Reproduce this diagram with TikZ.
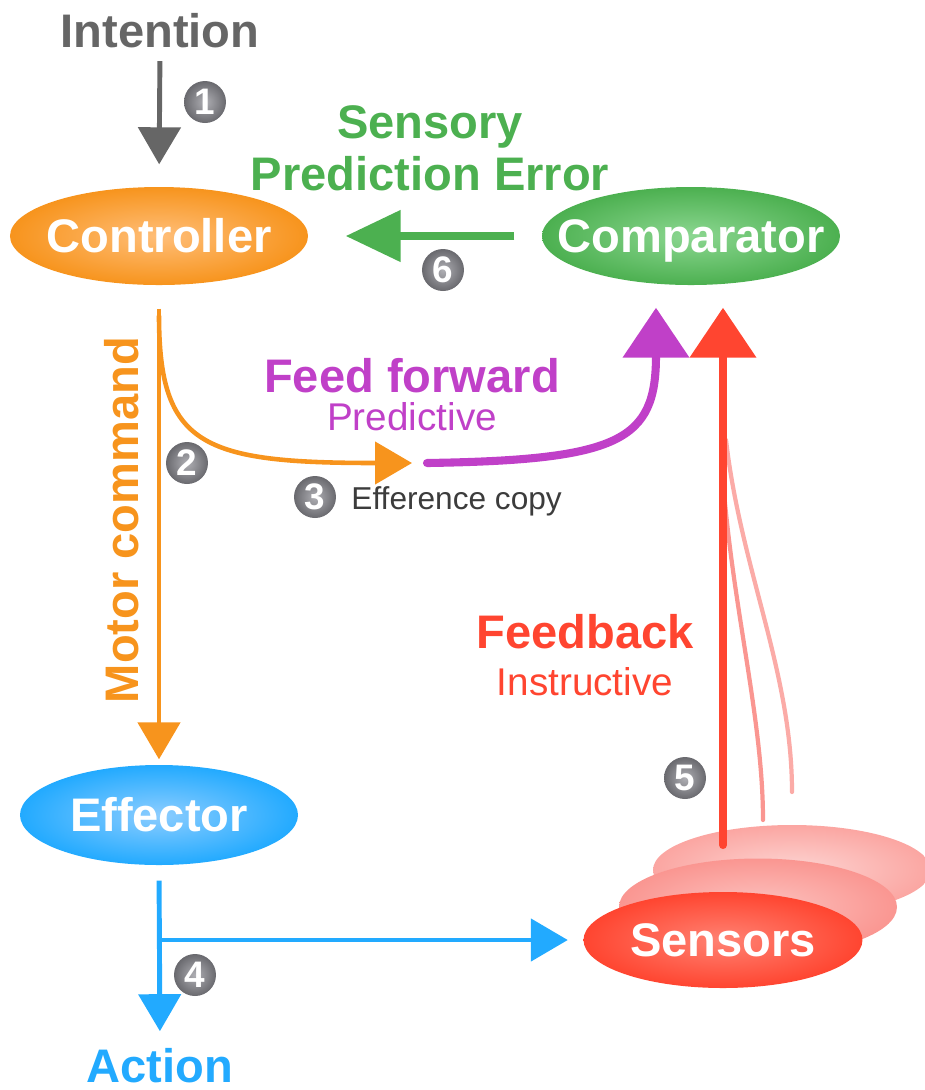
\documentclass[tikz,border=0pt]{standalone}
\usepackage{fontspec}
\setmainfont{Liberation Sans}
\usetikzlibrary{shapes,arrows.meta,positioning}
\definecolor{intentgray}{RGB}{102,102,102}
\definecolor{copygray}{RGB}{60,60,60}
\definecolor{ctrlorange}{RGB}{247,148,29}
\definecolor{ctrllight}{RGB}{255,190,120}
\definecolor{compgreen}{RGB}{76,176,80}
\definecolor{complight}{RGB}{140,215,145}
\definecolor{ffpurple}{RGB}{192,64,200}
\definecolor{fbred}{RGB}{255,69,48}
\definecolor{fblight}{RGB}{255,130,115}
\definecolor{fbpale}{RGB}{250,150,145}
\definecolor{fbpaler}{RGB}{252,195,192}
\definecolor{effblue}{RGB}{34,170,255}
\definecolor{efflight}{RGB}{140,205,255}
\definecolor{badgedark}{RGB}{105,105,110}
\definecolor{badgelight}{RGB}{175,175,180}

\begin{document}
\begin{tikzpicture}[
  blob/.style={ellipse, inner sep=0pt, minimum width=2.98cm, minimum height=0.98cm, shading=radial, label={[blobtext]center:#1}},
  blobtext/.style={text=white, inner sep=0pt, text height=9.6pt, text depth=0pt, font=\fontsize{13.4}{16}\selectfont\bfseries},
  badge/.style={circle, minimum size=0.42cm, inner sep=0pt, shading=radial, inner color=badgelight, outer color=badgedark, text=white, font=\fontsize{10.5}{12}\selectfont\bfseries},
  headline/.style={inner sep=0pt, anchor=base, font=\fontsize{13.4}{16}\selectfont\bfseries},
  subline/.style={inner sep=0pt, anchor=base, font=\fontsize{11}{13}\selectfont},
  thinhead/.style={-{Triangle[length=0.37cm,width=0.42cm]}},
  bighead/.style={-{Triangle[length=0.50cm,width=0.65cm]}}
]
  \useasboundingbox (0,0) rectangle (9.25,-10.9);

  % boxes
  \node[blob=Controller, inner color=ctrllight, outer color=ctrlorange] (ctrl) at (1.59,-2.36) {};
  \node[blob=Comparator, inner color=complight, outer color=compgreen] (comp) at (6.91,-2.36) {};
  \node[blob=Effector, minimum width=2.78cm, minimum height=1.0cm, inner color=efflight, outer color=effblue] (eff) at (1.59,-8.15) {};
  \node[ellipse, minimum width=2.78cm, minimum height=0.9cm, shading=radial, inner color=fbpaler!70!white, outer color=fbpale!85!white] (sensC) at (7.92,-8.70) {};
  \node[ellipse, minimum width=2.78cm, minimum height=0.97cm, shading=radial, inner color=fbpaler, outer color=fbpale] (sensB) at (7.58,-9.07) {};
  \node[blob=Sensors, minimum width=2.79cm, minimum height=0.96cm, inner color=fblight, outer color=fbred] (sens) at (7.23,-9.40) {};

  % labels
  \node[headline, text=intentgray] (intent) at (1.60,-0.47) {Intention};
  \node[headline, text=compgreen] (sensory) at (4.30,-1.38) {Sensory};
  \node[headline, text=compgreen] (prederr) at (4.30,-1.90) {Prediction Error};
  \node[headline, text=ffpurple] (ff) at (4.12,-3.92) {Feed forward};
  \node[subline, text=ffpurple] (ffsub) at (4.12,-4.30) {Predictive};
  \node[headline, text=fbred] (fb) at (5.85,-6.48) {Feedback};
  \node[subline, text=fbred] (fbsub) at (5.85,-6.95) {Instructive};
  \node[headline, text=ctrlorange, rotate=90] (motor) at (1.38,-5.20) {Motor command};
  \node[headline, text=effblue] (action) at (1.60,-10.82) {Action};

  % numbers
  \node[badge] (n1) at (2.05,-1.02) {1};
  \node[badge] (n2) at (1.87,-4.63) {2};
  \node[badge] (n3) at (3.15,-4.97) {3};
  \node[subline, text=copygray, font=\fontsize{9}{11}\selectfont, right=0.14cm of n3.east, yshift=-0.04cm] (effcopy) {Efference copy};
  \node[badge] (n4) at (1.95,-9.75) {4};
  \node[badge] (n5) at (6.85,-7.78) {5};
  \node[badge] (n6) at (4.43,-2.70) {6};

  \coordinate (copytip) at (4.12,-4.63);
  \coordinate (fbstart) at (7.23,-8.45);

  % arrows
  \draw[thinhead, intentgray, line width=1.4pt, shorten <=0.13cm, shorten >=0.22cm] (intent.south) -- (ctrl.north);
  \draw[thinhead, ctrlorange, line width=1.4pt, shorten <=0.23cm, shorten >=0.05cm] (ctrl.south) -- (eff.north);
  \draw[thinhead, ctrlorange, line width=1.3pt] ([yshift=-0.3cm]ctrl.south) .. controls +(0,-1.3) and +(-2.1,0) .. (copytip);
  \draw[bighead, ffpurple, line width=2.3pt, line cap=round] ([xshift=0.15cm]copytip) .. controls +(1.93,0.03) and +(0,-1.33) .. ([xshift=-0.35cm,yshift=-0.22cm]comp.south);
  \draw[-{Triangle[length=0.55cm,width=0.5cm]}, compgreen, line width=2.3pt, shorten <=0.27cm, shorten >=0.37cm] (comp.west) -- (ctrl.east);

  \draw[fbpale, line width=1.2pt, line cap=round] ([yshift=3.65cm]fbstart) .. controls +(0.1,-1.3) and +(0,1.0) .. (7.63,-8.20);
  \draw[fbpale!80!white, line width=1.2pt, line cap=round] ([xshift=0.03cm,yshift=4.05cm]fbstart) .. controls +(0.15,-1.3) and +(0,1.2) .. (7.92,-7.92);
  \draw[bighead, fbred, line width=2.3pt, line cap=round, shorten >=0.22cm] (fbstart) -- (fbstart |- comp.south);

  \draw[thinhead, effblue, line width=1.4pt, shorten <=0.15cm, shorten >=0.16cm] (eff.south) -- (action.north);
  \draw[thinhead, effblue, line width=1.4pt, shorten >=0.15cm] (eff.south |- sens.west) -- (sens.west);
\end{tikzpicture}
\end{document}
